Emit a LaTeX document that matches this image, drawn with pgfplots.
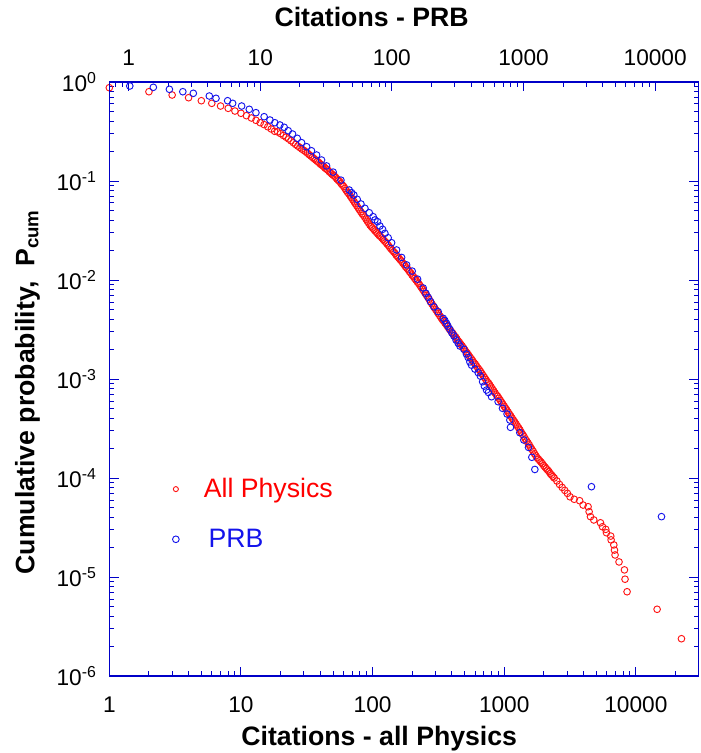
\documentclass[border=0pt]{standalone}
\usepackage{fontspec}
\setmainfont{Liberation Sans}
\usepackage{pgfplots}
\pgfplotsset{compat=1.18}
\definecolor{axblue}{RGB}{0,0,200}
\definecolor{datblue}{RGB}{20,20,235}
\definecolor{datred}{RGB}{255,20,20}

% all Physics (bottom axis)
\pgfplotstableread{
x p
1 0.876
2 0.798
3 0.739
4 0.694
5 0.647
6 0.609
7 0.572
8 0.542
9 0.509
10 0.483
11 0.457
12 0.433
13 0.410
14 0.388
15 0.371
16 0.353
17 0.335
18 0.318
19 0.313
20 0.301
21 0.288
22 0.277
23 0.266
24 0.255
25 0.244
26 0.234
27 0.2254
28 0.218
29 0.210
30 0.204
31 0.198
32 0.191
33 0.1845
34 0.179
35 0.173
36 0.168
37 0.163
38 0.158
39 0.154
40 0.149
40.74 0.1462
41.69 0.1429
42.66 0.1396
43.65 0.1349
44.67 0.1318
45.71 0.1288
46.77 0.1245
47.86 0.1216
48.98 0.1175
50.12 0.1148
51.29 0.1122
52.48 0.1084
53.70 0.1047
54.95 0.1012
56.23 0.09886
57.54 0.09441
58.88 0.09120
60.26 0.08810
61.66 0.08414
63.10 0.08035
64.57 0.07674
66.07 0.07413
67.61 0.07080
69.18 0.06761
70.79 0.06457
72.44 0.06166
74.13 0.05888
75.86 0.05623
77.62 0.05370
79.43 0.05129
81.28 0.04898
83.18 0.04677
85.11 0.04519
87.10 0.04315
89.13 0.04121
91.20 0.03936
93.33 0.03758
95.50 0.03589
97.72 0.03467
100.0 0.03350
102.3 0.03236
104.7 0.03126
107.2 0.03020
109.6 0.02917
112.2 0.02818
114.8 0.02754
117.5 0.02661
120.2 0.02570
123.0 0.02483
125.9 0.02399
128.8 0.02317
131.8 0.02239
134.9 0.02138
138.0 0.02065
141.3 0.01995
144.5 0.01928
147.9 0.01862
151.4 0.01778
154.9 0.01718
158.5 0.01660
162.2 0.01603
166.0 0.01549
169.8 0.01479
173.8 0.01429
177.8 0.01365
182.0 0.01318
186.2 0.01274
190.6 0.01216
195.0 0.01175
199.5 0.01122
204.2 0.01084
208.9 0.01035
213.8 0.01000
218.8 0.009550
223.9 0.009226
229.1 0.008810
234.4 0.008414
239.9 0.008035
245.5 0.007674
251.2 0.007328
257.0 0.006998
263.0 0.006683
269.2 0.006383
275.4 0.006026
281.8 0.005754
288.4 0.005495
295.1 0.005248
302.0 0.005012
309.0 0.004786
316.2 0.004571
323.6 0.004365
331.1 0.004169
338.8 0.003981
346.7 0.003846
354.8 0.003673
363.1 0.003548
371.5 0.003388
380.2 0.003236
389.0 0.003126
398.1 0.002985
407.4 0.002884
416.9 0.002754
426.6 0.002661
436.5 0.002541
446.7 0.002427
457.1 0.002344
467.7 0.002239
478.6 0.002163
489.8 0.002065
501.2 0.001972
512.9 0.001884
524.8 0.001820
537.0 0.001738
549.5 0.001660
562.3 0.001603
575.4 0.001531
588.8 0.001462
602.6 0.001413
616.6 0.001349
631.0 0.001288
645.7 0.001245
660.7 0.001189
676.1 0.001135
691.8 0.001084
707.9 0.001035
724.4 0.0009886
741.3 0.0009441
758.6 0.0009120
776.2 0.0008710
794.3 0.0008318
812.8 0.0007943
831.8 0.0007586
851.1 0.0007244
871.0 0.0006918
891.3 0.0006683
912.0 0.0006383
933.3 0.0006095
955.0 0.0005821
977.2 0.0005559
1000 0.0005309
1023 0.0005070
1047 0.0004842
1072 0.0004624
1096 0.0004416
1122 0.0004217
1148 0.0004027
1175 0.0003846
1202 0.0003673
1230 0.0003508
1259 0.0003350
1288 0.0003199
1318 0.0003055
1349 0.0002884
1380 0.0002754
1413 0.0002630
1445 0.0002483
1479 0.0002371
1514 0.0002265
1549 0.0002163
1585 0.0002042
1622 0.0001950
1660 0.0001862
1698 0.0001758
1738 0.0001679
1778 0.0001603
1820 0.0001549
1862 0.0001496
1905 0.0001445
1950 0.0001396
1995 0.0001334
2042 0.0001288
2089 0.0001245
2138 0.0001202
2188 0.0001161
2239 0.0001109
2291 0.0001072
2344 0.0001035
2399 0.0001000
2512 9.333e-5
2630 8.610e-5
2754 8.035e-5
2884 7.499e-5
3020 6.998e-5
3162 6.457e-5
3400 6.10e-5
3740 5.90e-5
3975 5.33e-5
4335 5.13e-5
4415 4.57e-5
4520 4.07e-5
4790 3.77e-5
5385 3.53e-5
5575 3.22e-5
5905 3.03e-5
5980 2.80e-5
6445 2.59e-5
6485 2.37e-5
6800 2.11e-5
6880 1.87e-5
6950 1.67e-5
7450 1.42e-5
8190 1.18e-5
8275 9.5e-6
8575 7.1e-6
14500 4.72e-6
22200 2.38e-6
}\allphys

% PRB (top axis)
\pgfplotstableread{
x p
1.02 0.911
1.54 0.884
2.04 0.844
2.58 0.798
3.10 0.769
4.10 0.722
4.61 0.684
5.65 0.647
6.17 0.609
7.22 0.572
8.25 0.530
9.27 0.490
10.7 0.446
11.85 0.413
12.9 0.388
14.1 0.368
15.2 0.349
16.3 0.322
17.6 0.298
19.1 0.270
20.6 0.244
22.5 0.222
24.5 0.202
26.8 0.183
29.2 0.163
31.9 0.142
35.8 0.123
41.0 0.102
47.4 0.0811
49.4 0.0762
51.4 0.0722
54.5 0.0653
58.2 0.0586
62.4 0.0530
67.3 0.0478
72.1 0.0436
74.3 0.0404
77.9 0.0388
81.1 0.0351
85.0 0.0325
88.5 0.0296
93.7 0.0267
99.5 0.0238
108.6 0.0201
118.5 0.0169
129.4 0.0142
142.6 0.0123
156.7 0.0102
172.9 0.00830
181.2 0.00734
188.7 0.00668
196.8 0.00604
208.4 0.00537
224.8 0.00478
245.5 0.00410
252.5 0.00390
260.2 0.00365
266.3 0.00343
275.5 0.00318
285.8 0.00292
295.6 0.00272
307 0.00248
318.7 0.00230
328.9 0.00215
352.0 0.00200
368 0.00179
379.5 0.00165
391 0.00149
402.7 0.00138
427 0.00126
452 0.00116
470 0.00107
488.6 0.000939
504 0.000849
523.6 0.000774
541 0.000731
571.5 0.000662
641.2 0.000590
692 0.000506
750 0.000443
787 0.000385
796 0.000325
937 0.000287
1005 0.000242
1091 0.000204
1156 0.000162
1219 0.000122
3281 8.17e-5
11170 4.07e-5
}\prb

\begin{document}
\begin{tikzpicture}
\useasboundingbox (-82pt,-57.75pt) rectangle (443pt,507pt);

% bottom axis: all Physics
\begin{loglogaxis}[at={(0pt,0pt)}, anchor=south west,
  scale only axis, width=442pt, height=445.5pt,
  xmin=1, xmax=3e4, ymin=1e-6, ymax=1,
  axis line style={axblue, line width=0.8pt},
  tick style={axblue, line width=0.7pt},
  tick align=inside,
  major tick length=7pt, minor tick length=3.5pt,
  tick label style={font=\fontsize{17}{20}\selectfont, text=black},
  xticklabel style={yshift=-12pt},
  yticklabel style={xshift=-6pt},
  xtick pos=left,
  xtick={1,10,100,1000,10000},
  xticklabels={1,10,100,1000,10000},
  minor xtick={2,3,4,5,6,7,8,9,20,30,40,50,60,70,80,90,200,300,400,500,600,700,800,900,2000,3000,4000,5000,6000,7000,8000,9000,20000},
  ytick={1e-6,1e-5,1e-4,1e-3,1e-2,1e-1,1},
  minor ytick={},
  yticklabels={10\textsuperscript{-6},10\textsuperscript{-5},10\textsuperscript{-4},10\textsuperscript{-3},10\textsuperscript{-2},10\textsuperscript{-1},10\textsuperscript{0}},
  xlabel={Citations - all Physics},
  xlabel style={at={(axis description cs:0.458,-0.106)}, anchor=center, font=\fontsize{20}{24}\selectfont\bfseries},
  ylabel={Cumulative probability,\ \ P\textsubscript{cum}},
  ylabel style={at={(axis description cs:-0.139,0.478)}, anchor=center, font=\fontsize{20}{24}\selectfont\bfseries},
]
  \addplot[only marks, mark=o, mark size=2.5pt, mark options={line width=0.7pt}, datred] table[x=x, y=p] {\allphys};
\end{loglogaxis}

% top axis: PRB
\begin{loglogaxis}[at={(0pt,0pt)}, anchor=south west,
  scale only axis, width=442pt, height=445.5pt,
  xmin=0.7135, xmax=21405, ymin=1e-6, ymax=1,
  axis line style={axblue, line width=0.8pt},
  tick style={axblue, line width=0.7pt},
  tick align=inside,
  major tick length=7pt, minor tick length=3.5pt,
  tick label style={font=\fontsize{17}{20}\selectfont, text=black},
  xticklabel style={yshift=9pt},
  xtick pos=right, xticklabel pos=right,
  xtick={1,10,100,1000,10000},
  xticklabels={1,10,100,1000,10000},
  minor xtick={0.8,0.9,2,3,4,5,6,7,8,9,20,30,40,50,60,70,80,90,200,300,400,500,600,700,800,900,2000,3000,4000,5000,6000,7000,8000,9000,20000},
  ytick=\empty, yticklabels={}, minor ytick={},
  xlabel={Citations - PRB},
  xlabel style={at={(axis description cs:0.445,1.109)}, anchor=center, font=\fontsize{20}{24}\selectfont\bfseries},
  legend style={at={(axis description cs:0.10,0.342)}, anchor=north west, draw=none, fill=none,
    font=\fontsize{20}{24}\selectfont, row sep=18pt},
  legend cell align=left,
]
  \addlegendimage{only marks, mark=o, mark size=1.9pt, mark options={line width=0.7pt}, datred}
  \addlegendentry{\hspace{16.5pt}\textcolor{red}{All Physics}}
  \addplot[only marks, mark=o, mark size=2.5pt, mark options={line width=0.7pt, fill=white}, datblue] table[x=x, y=p] {\prb};
  \addlegendentry{\hspace{20pt}\textcolor{datblue}{PRB}}
\end{loglogaxis}
\end{tikzpicture}
\end{document}
